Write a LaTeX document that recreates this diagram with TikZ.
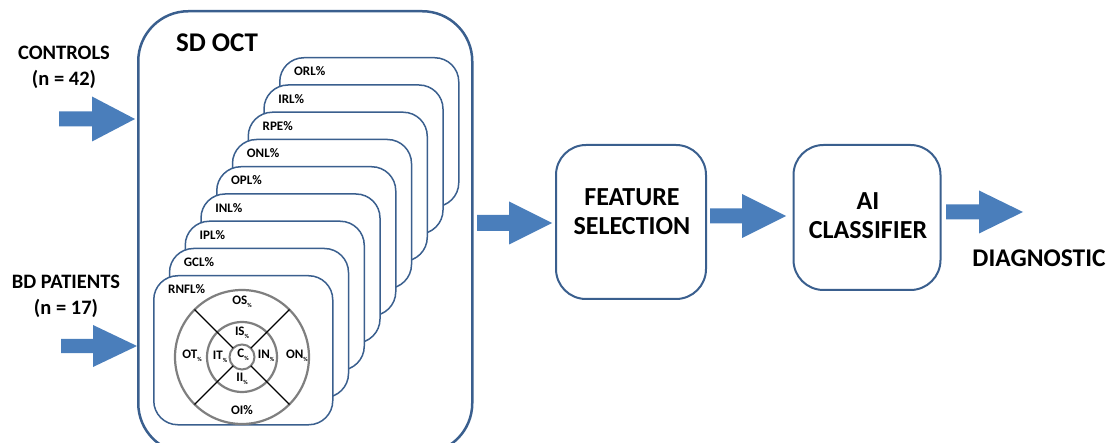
\documentclass[tikz,border=0pt]{standalone}
\usepackage{fontspec}
\setmainfont{Carlito}
\usetikzlibrary{calc}
\definecolor{boxblue}{HTML}{3A5F8E}
\definecolor{arrowblue}{HTML}{4A7EBB}
\definecolor{ringgrey}{HTML}{7F7F7F}
\newcommand{\pc}{{\fontsize{6}{6}\selectfont\raisebox{-2.5pt}{\%}}}
\newcommand{\blockarrow}[6]{% xstart, xhead, xtip, y, shaft half, head half
  \fill[arrowblue] (#1,#4-#5) -- (#2,#4-#5) -- (#2,#4-#6) -- (#3,#4) -- (#2,#4+#6) -- (#2,#4+#5) -- (#1,#4+#5) -- cycle;}
\begin{document}
\begin{tikzpicture}[x=1pt,y=-1pt,font=\bfseries,
  card/.style={draw=boxblue,line width=1.5pt,fill=white,rounded corners=24pt,minimum width=179pt,minimum height=149pt,anchor=north west,inner sep=0pt},
  cardlabel/.style={font=\fontsize{13}{15}\selectfont\bfseries,anchor=west,inner sep=0pt},
  ringlabel/.style={font=\fontsize{13}{15}\selectfont\bfseries,inner sep=0pt},
  procbox/.style={draw=boxblue,line width=2pt,fill=white,rounded corners=30pt},
  proctext/.style={align=center,font=\fontsize{26}{29}\selectfont\bfseries},
  sidelabel/.style={align=center,font=\fontsize{20.5}{26}\selectfont\bfseries}]
\useasboundingbox (0,0) rectangle (1113,443);
% big SD OCT box
\node[draw=boxblue,line width=2.5pt,rounded corners=50pt,minimum width=334pt,minimum height=442pt,anchor=north west,inner sep=0pt] (oct) at (137,10) {};
\node[font=\fontsize{27}{30}\selectfont\bfseries] (octlabel) at (217,43) {SD OCT};
% stacked cards
\foreach \i/\lab in {8/ORL\%,7/IRL\%,6/RPE\%,5/ONL\%,4/OPL\%,3/INL\%,2/IPL\%,1/GCL\%,0/RNFL\%}{
  \pgfmathsetmacro\cx{153+15.75*\i}
  \pgfmathsetmacro\cy{275-27.25*\i}
  \node[card] (card\i) at (\cx,\cy) {};
  \node[cardlabel] (lab\i) at (\cx+15,\cy+14.5) {\lab};
}
% rings
\coordinate (rc) at (242,357);
\draw[ringgrey,line width=2.2pt] (rc) circle (67);
\draw[ringgrey,line width=2.2pt] (rc) circle (35);
\draw[ringgrey,line width=2pt] (rc) circle (12.5);
\foreach \a in {45,135,225,315}{
  \draw[black,line width=1.4pt] ($(rc)+(\a:12.5)$) -- ($(rc)+(\a:67)$);
}
\node[ringlabel] (os) at (242,302) {OS\pc};
\node[ringlabel] (is) at (242,333) {IS\pc};
\node[ringlabel] (cc) at (243,355) {C\pc};
\node[ringlabel] (in) at (266,356) {IN\pc};
\node[ringlabel] (on) at (297,356) {ON\pc};
\node[ringlabel] (it) at (220,357) {IT\pc};
\node[ringlabel] (ot) at (192,356) {OT\pc};
\node[ringlabel] (ii) at (242,379) {II\pc};
\node[ringlabel] (oi) at (242,410) {OI\%};
% side labels
\node[sidelabel] (ctrl) at (64,67) {CONTROLS\\(n = 42)};
\node[sidelabel] (bd) at (66,296) {BD PATIENTS\\(n = 17)};
% process boxes
\node[procbox,minimum width=150pt,minimum height=154pt] (fs) at (631,222) {};
\node[proctext] (fstext) at (632,212) {FEATURE\\SELECTION};
\node[procbox,minimum width=147pt,minimum height=145pt] (ai) at (867,217.5) {};
\node[proctext] (aitext) at (868,216) {AI\\CLASSIFIER};
\node[font=\fontsize{25.5}{29}\selectfont\bfseries] (diag) at (1039,258) {DIAGNOSTIC};
% block arrows
\blockarrow{59}{92}{135}{119}{7.5}{22.5}
\blockarrow{61}{93}{137}{346}{7}{21}
\blockarrow{477}{509}{552}{223}{8}{21.5}
\blockarrow{710}{742}{786}{216}{7.5}{22}
\blockarrow{946}{979}{1023}{212}{7.5}{21.5}
\end{tikzpicture}
\end{document}
